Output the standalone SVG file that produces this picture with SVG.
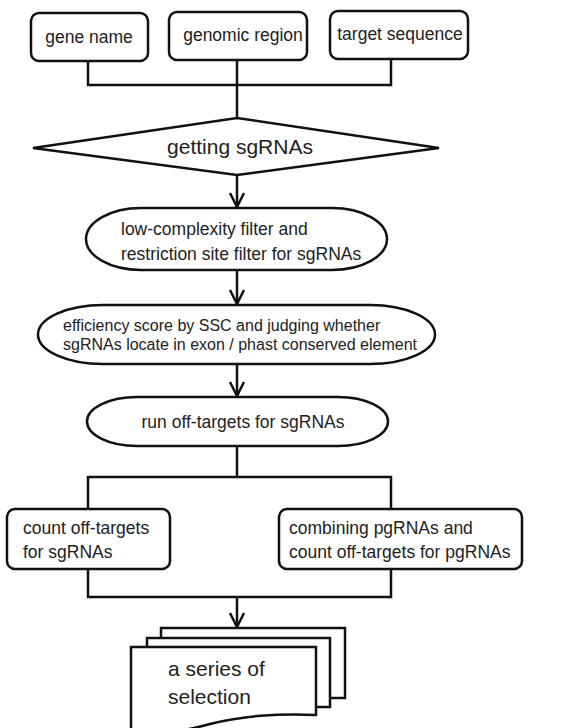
<svg xmlns="http://www.w3.org/2000/svg" width="583" height="728" viewBox="0 0 583 728">
<style>
.s{fill:#fff;stroke:#111;stroke-width:2.5}
.c{fill:none;stroke:#111;stroke-width:2.5}
text{font-family:"Liberation Sans",Arial,sans-serif;fill:#222;font-size:17.5px}
.m{text-anchor:middle}
</style>
<defs>
<marker id="ah" markerUnits="userSpaceOnUse" markerWidth="20" markerHeight="20" viewBox="-2 -2 20 20" refX="14" refY="8" orient="auto" overflow="visible">
<path d="M0,1 L14,8 L0,15" fill="none" stroke="#111" stroke-width="2.5"/>
</marker>
</defs>
<rect width="583" height="728" fill="#fff"/>
<g id="connectors">
<path class="c" d="M88,61 V85 H391 V59 M237,60 V118"/>
<path class="c" d="M237,175 V207" marker-end="url(#ah)"/>
<path class="c" d="M237,270 V304" marker-end="url(#ah)"/>
<path class="c" d="M237,364 V396" marker-end="url(#ah)"/>
<path class="c" d="M237,446 V477 M88,509 V477 H391 V509"/>
<path class="c" d="M88,569 V597 H391 V569"/>
<path class="c" d="M237,597 V627" marker-end="url(#ah)"/>
</g>
<g id="n-gene">
<rect class="s" x="31" y="13" width="117" height="48" rx="8"/>
<text class="m" x="89" y="43">gene name</text>
</g>
<g id="n-region">
<rect class="s" x="169" y="12" width="138" height="48" rx="8"/>
<text class="m" x="243" y="41">genomic region</text>
</g>
<g id="n-target">
<rect class="s" x="330" y="11" width="138" height="48" rx="8"/>
<text class="m" x="400" y="40">target sequence</text>
</g>
<g id="n-getting">
<path class="s" d="M237,118 L439,148 L237,175 L33,148 Z"/>
<text class="m" x="240" y="154" style="font-size:21px">getting sgRNAs</text>
</g>
<g id="n-filter">
<rect class="s" x="86" y="208" width="301" height="62" rx="55" ry="31"/>
<text x="121" y="235">low-complexity filter and</text>
<text x="121" y="260">restriction site filter for sgRNAs</text>
</g>
<g id="n-score">
<rect class="s" x="38" y="305" width="397" height="59" rx="65" ry="29.5"/>
<text x="63" y="331" style="font-size:16px">efficiency score by SSC and judging whether</text>
<text x="63" y="350" style="font-size:16px">sgRNAs locate in exon / phast conserved element</text>
</g>
<g id="n-run">
<rect class="s" x="87" y="397" width="301" height="49" rx="50" ry="24.5"/>
<text class="m" x="243" y="428">run off-targets for sgRNAs</text>
</g>
<g id="n-count">
<rect class="s" x="7" y="509" width="163" height="60" rx="8"/>
<text x="23" y="534">count off-targets</text>
<text x="23" y="558">for sgRNAs</text>
</g>
<g id="n-combine">
<rect class="s" x="279" y="509" width="243" height="60" rx="8"/>
<text x="289" y="534">combining pgRNAs and</text>
<text x="289" y="558">count off-targets for pgRNAs</text>
</g>
<g id="n-selection">
<path class="s" d="M161,628 H345 V698 H161 Z"/>
<path class="s" d="M147,638 H330 V707 H147 Z"/>
<path class="s" d="M131,647 H316 V715 C280,713 240,716 210,724 C185,731 160,735 131,733 Z"/>
<text x="168" y="676" style="font-size:21px">a series of</text>
<text x="168" y="704" style="font-size:21px">selection</text>
</g>
</svg>
